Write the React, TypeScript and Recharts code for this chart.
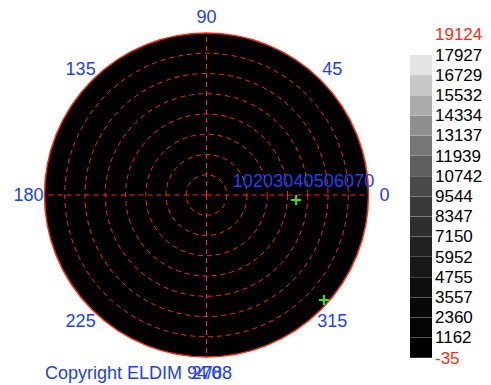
import React from "react";
import {
  PieChart,
  Pie,
  RadarChart,
  Radar,
  PolarGrid,
  PolarAngleAxis,
  PolarRadiusAxis,
  ScatterChart,
  Scatter,
  BarChart,
  Bar,
  Cell,
  XAxis,
  YAxis,
} from "recharts";

// polar plot: azimuth labels (listed clockwise from the top), grid spokes, inclination rings
const angleTicks = [90, 45, 0, 315, 270, 225, 180, 135];
const gridAngles = [0, 90, 180, 270];
const radiusTicks = [10, 20, 30, 40, 50, 60, 70];
const radiusMax = 80;

// green markers: inclination (deg) and azimuth (deg)
const markTheta = [44.3, 77.8];
const markPhi = [356.8, 318.2];

// colour scale levels (top = max) and the band colours between them
const levels = [
  19124, 17927, 16729, 15532, 14334, 13137, 11939, 10742, 9544, 8347, 7150,
  5952, 4755, 3557, 2360, 1162, -35,
];
const bandColors = [
  "#ffffff", "#e4e4e4", "#c6c6c6", "#aaaaaa", "#8e8e8e", "#767676", "#5e5e5e",
  "#4a4a4a", "#3a3a3a", "#2e2e2e", "#222222", "#181818", "#0f0f0f",
  "#080808", "#040404", "#000000",
];

const W = 491;
const H = 385;
const CX = 206.5;
const CY = 195;
const R = 162;

const BLUE = "#2040f4";
const RED = "#ff2a10";
const FONT = "'Liberation Sans', Arial, sans-serif";
const NO_MARGIN = { top: 0, right: 0, bottom: 0, left: 0 };

const layer: React.CSSProperties = { position: "absolute", left: 0, top: 0 };

const AngleTick = (props: any) => {
  const { x, y, payload } = props;
  return (
    <text x={x} y={y} textAnchor="middle" dominantBaseline="central" fill={BLUE} fontSize={18} fontFamily={FONT}>
      {payload.value}
    </text>
  );
};

const RadiusTick = (props: any) => {
  const { x, y, payload } = props;
  return (
    <text x={x + 6} y={y - 14} textAnchor="start" dominantBaseline="central" fill={BLUE} fontSize={18} fontFamily={FONT}>
      {payload.value}
    </text>
  );
};

// each band carries the level at its upper edge; the last one also the minimum
const ScaleTick = (props: any) => {
  const { x, y, payload, index } = props;
  const half = payload.offset ?? 0;
  const i = index ?? payload.index ?? 0;
  const label = (v: number, ty: number) => {
    const edge = v === levels[0] || v === levels[levels.length - 1];
    return (
      <text key={v} x={x} y={ty} textAnchor="start" dominantBaseline="central" fill={edge ? RED : "#000"} fontSize={17} fontFamily={FONT}>
        {v}
      </text>
    );
  };
  return (
    <g>
      {label(levels[i], y - half)}
      {i === bandColors.length - 1 ? label(levels[i + 1], y + half) : null}
    </g>
  );
};

const Cross = (props: any) => {
  const { cx, cy } = props;
  return (
    <g stroke="#22ee22" strokeWidth={2}>
      <line x1={cx - 5} y1={cy} x2={cx + 5} y2={cy} />
      <line x1={cx} y1={cy - 5} x2={cx} y2={cy + 5} />
    </g>
  );
};

export default function App() {
  const field = [{ name: "field", value: 1 }];
  const spokes = angleTicks.map((a) => ({ angle: a, v: 0 }));
  const marks = markTheta.map((t, i) => ({
    x: t * Math.cos((markPhi[i] * Math.PI) / 180),
    y: t * Math.sin((markPhi[i] * Math.PI) / 180),
  }));
  const bands = bandColors.map((c, i) => ({ band: `b${i}`, full: 1 }));

  return (
    <div style={{ position: "absolute", left: 0, top: 0, width: W, height: H, background: "#fff", fontFamily: FONT }}>
      <div style={layer}>
        <PieChart width={W} height={H} margin={NO_MARGIN}>
          <Pie
            data={field}
            dataKey="value"
            cx={CX}
            cy={CY}
            outerRadius={R}
            startAngle={0}
            endAngle={360}
            fill="#000"
            stroke="none"
            isAnimationActive={false}
          />
        </PieChart>
      </div>

      <div style={layer}>
        <RadarChart width={W} height={H} margin={NO_MARGIN} cx={CX} cy={CY} outerRadius={R} data={spokes}>
          <PolarGrid gridType="circle" polarAngles={gridAngles} stroke={RED} strokeDasharray="5 4" />
          <PolarAngleAxis
            dataKey="angle"
            axisLineType="circle"
            axisLine={{ stroke: RED, strokeWidth: 1.5 }}
            tickLine={false}
            tickSize={16}
            tick={<AngleTick />}
          />
          <PolarRadiusAxis
            type="number"
            angle={0}
            domain={[0, radiusMax]}
            ticks={radiusTicks}
            axisLine={false}
            tickLine={false}
            tick={<RadiusTick />}
          />
          <Radar dataKey="v" stroke="none" fill="none" dot={false} isAnimationActive={false} />
        </RadarChart>
      </div>

      <div style={layer}>
        <ScatterChart
          width={W}
          height={H}
          margin={{ left: CX - R, right: W - CX - R, top: CY - R, bottom: H - CY - R }}
        >
          <XAxis type="number" dataKey="x" domain={[-radiusMax, radiusMax]} hide />
          <YAxis type="number" dataKey="y" domain={[-radiusMax, radiusMax]} hide />
          <Scatter data={marks} shape={<Cross />} isAnimationActive={false} />
        </ScatterChart>
      </div>

      <div style={layer}>
        <BarChart
          width={W}
          height={H}
          layout="vertical"
          data={bands}
          barCategoryGap={0}
          margin={{ left: 410, right: 0, top: 34.8, bottom: 27 }}
        >
          <XAxis type="number" domain={[0, 1]} hide />
          <YAxis
            type="category"
            dataKey="band"
            orientation="right"
            width={59}
            interval={0}
            axisLine={false}
            tickLine={false}
            tickSize={0}
            tickMargin={3}
            tick={<ScaleTick />}
          />
          <Bar dataKey="full" isAnimationActive={false}>
            {bands.map((b, i) => (
              <Cell key={b.band} fill={bandColors[i]} />
            ))}
          </Bar>
        </BarChart>
      </div>

      <div style={{ position: "absolute", left: 45, top: 362, color: BLUE, fontSize: 18, lineHeight: "22px", whiteSpace: "nowrap" }}>
        Copyright ELDIM 94/88
      </div>
    </div>
  );
}
